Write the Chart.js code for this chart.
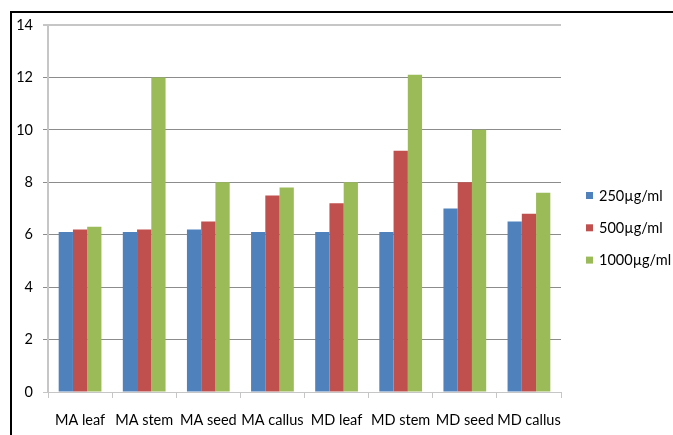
<!DOCTYPE html>
<html>
<head>
<meta charset="utf-8">
<script src="https://cdn.jsdelivr.net/npm/chart.js@4"></script>
<style>
  html, body { margin: 0; padding: 0; background: #fff; }
  #wrap { position: relative; width: 673px; height: 435px; overflow: hidden; }
  #frame {
    position: absolute; left: 10px; top: 11px; width: 700px; height: 500px;
    border-top: 2px solid #000; border-left: 2px solid #000; pointer-events: none;
  }
  canvas { position: absolute; left: 0; top: 0; }
</style>
</head>
<body>
<div id="wrap">
  <canvas id="c" width="673" height="435"></canvas>
  <div id="frame"></div>
</div>
<script>
// Sample groups along the x axis
const categories = ['MA leaf', 'MA stem', 'MA seed', 'MA callus', 'MD leaf', 'MD stem', 'MD seed', 'MD callus'];

// Concentration series
const seriesNames = ['250µg/ml', '500µg/ml', '1000µg/ml'];
const values250 = [6.1, 6.1, 6.2, 6.1, 6.1, 6.1, 7.0, 6.5];
const values500 = [6.2, 6.2, 6.5, 7.5, 7.2, 9.2, 8.0, 6.8];
const values1000 = [6.3, 12.0, 8.0, 7.8, 8.0, 12.1, 10.0, 7.6];

// Y axis ticks
const yTicks = [0, 2, 4, 6, 8, 10, 12, 14];

const colors = ['#4F81BD', '#C0504D', '#9BBB59'];
const FONT = 'Lato';
const FONT_SIZE = 14.5;

// Legend drawn at the right of the plot, one row per series
const sideLegend = {
  id: 'sideLegend',
  afterDraw(chart) {
    const ctx = chart.ctx;
    ctx.save();
    ctx.font = FONT_SIZE + 'px ' + FONT;
    ctx.textBaseline = 'middle';
    ctx.textAlign = 'left';
    chart.data.datasets.forEach((ds, i) => {
      const cy = 195.5 + i * 32.3;
      ctx.fillStyle = ds.backgroundColor;
      ctx.fillRect(586, cy - 3.5, 7, 7);
      ctx.fillStyle = '#000';
      ctx.fillText(ds.label, 599, cy + 0.5);
    });
    ctx.restore();
  }
};

const seriesValues = [values250, values500, values1000];

new Chart(document.getElementById('c'), {
  type: 'bar',
  data: {
    labels: categories,
    datasets: seriesNames.map((name, i) => ({
      label: name,
      data: seriesValues[i],
      backgroundColor: colors[i],
      borderWidth: 0,
      categoryPercentage: 2 / 3,
      barPercentage: 1
    }))
  },
  options: {
    responsive: false,
    animation: false,
    layout: { padding: { left: 0, right: 112, top: 25, bottom: 0 } },
    plugins: { legend: { display: false }, tooltip: { enabled: false } },
    scales: {
      x: {
        afterFit(scale) { scale.height = 43; },
        grid: {
          offset: true,
          drawOnChartArea: false,
          drawTicks: true,
          tickLength: 6,
          color: '#c6c6c6',
          lineWidth: 1
        },
        border: { display: true, color: '#c6c6c6', width: 1 },
        ticks: {
          color: '#000',
          font: { family: FONT, size: FONT_SIZE },
          padding: 14,
          maxRotation: 0,
          autoSkip: false
        }
      },
      y: {
        min: 0,
        max: 14,
        afterFit(scale) { scale.width = 48; },
        afterBuildTicks(scale) { scale.ticks = yTicks.map(v => ({ value: v })); },
        grid: {
          drawTicks: true,
          tickLength: 5,
          color: ctx => (ctx.tick && (ctx.tick.value === 0 || ctx.tick.value === 14)) ? '#c6c6c6' : '#8c8c8c',
          lineWidth: ctx => (ctx.tick && ctx.tick.value === 14) ? 2 : 1
        },
        border: { display: true, color: '#c6c6c6', width: 2 },
        ticks: {
          color: '#000',
          font: { family: FONT, size: FONT_SIZE },
          padding: 10
        }
      }
    }
  },
  plugins: [sideLegend]
});
</script>
</body>
</html>
